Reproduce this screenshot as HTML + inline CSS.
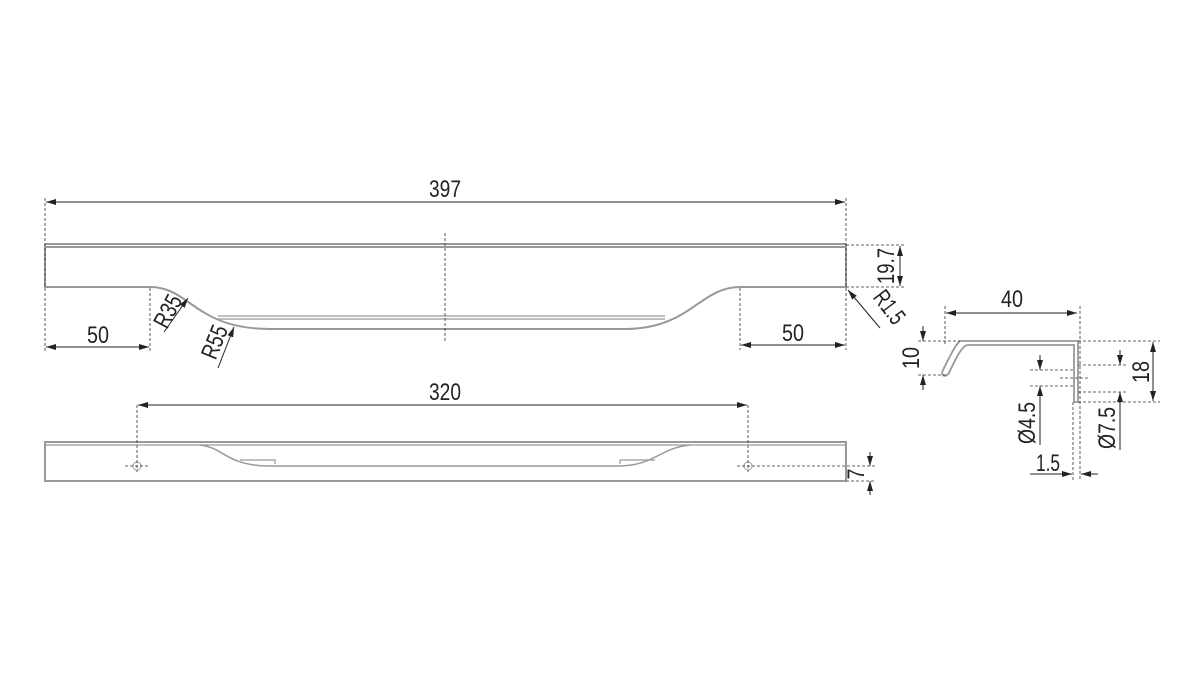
<!DOCTYPE html>
<html><head><meta charset="utf-8"><style>html,body{margin:0;padding:0;background:#fff}svg{display:block}text{font-family:"Liberation Sans",sans-serif;font-size:24px;fill:#222}</style></head><body>
<svg width="1200" height="675" viewBox="0 0 1200 675" xmlns="http://www.w3.org/2000/svg">
<defs>
<marker id="a" viewBox="0 0 10 6" refX="10" refY="3" markerWidth="10" markerHeight="6" orient="auto-start-reverse" markerUnits="userSpaceOnUse"><path d="M0,0L10,3L0,6z" fill="#222"/></marker>
</defs>
<g fill="none" stroke="#999" stroke-width="2">
<path d="M45,244H846M45,247H846M45,244V287H150C190,287 195,329 270,329H625C690,329 700,287 740,287H846V244"/>
<path d="M218,316H665M218,319H665" stroke-width="1.2"/>
<rect x="45" y="442" width="801" height="39"/>
<path d="M45,445H846" stroke-width="1.2"/>
<path d="M200,445C225,448 225,465 268,466H620C655,465 660,448 690,445" stroke-width="1.5"/>
<path d="M240,460H275V464M620,460H655M620,460V464" stroke-width="1.2"/>
<circle cx="137" cy="466" r="4" stroke-width="1"/><circle cx="748" cy="466" r="4" stroke-width="1"/>
<path d="M960,341H1078V402H1074V345H968C962,345 955,360 949,373C946,378 940,376 943,370C948,360 955,345 960,341Z" stroke-width="1.8"/>
</g>
<g stroke="#333" stroke-width="0.8" stroke-dasharray="3,2" fill="none">
<path d="M45,198V352M846,198V350M150,288V352M740,288V350M445,233V341"/>
<path d="M846,245H906M846,287H906"/>
<path d="M137,405V472M748,405V472M125,466H150M737,466H875M846,481H875"/>
<path d="M945,306V345M1080,306V480M1073,402V480M918,341H960M918,375H948M1078,341H1160M1078,402H1160M1030,370H1074M1030,386H1074M1078,365H1128M1078,392H1128M1060,378H1090"/>
</g>
<g stroke="#222" stroke-width="1" fill="none">
<line x1="46" y1="202" x2="845" y2="202" marker-start="url(#a)" marker-end="url(#a)"/>
<line x1="46" y1="347" x2="149" y2="347" marker-start="url(#a)" marker-end="url(#a)"/>
<line x1="741" y1="345" x2="845" y2="345" marker-start="url(#a)" marker-end="url(#a)"/>
<line x1="900" y1="246" x2="900" y2="286" marker-start="url(#a)" marker-end="url(#a)"/>
<line x1="880" y1="328" x2="848" y2="290" marker-end="url(#a)"/>
<line x1="164" y1="332" x2="188" y2="298" marker-end="url(#a)"/>
<line x1="218" y1="368" x2="234" y2="327" marker-end="url(#a)"/>
<line x1="138" y1="405" x2="747" y2="405" marker-start="url(#a)" marker-end="url(#a)"/>
<line x1="870" y1="452" x2="870" y2="466" marker-end="url(#a)"/>
<line x1="870" y1="495" x2="870" y2="481" marker-end="url(#a)"/>
<line x1="946" y1="313" x2="1077" y2="313" marker-start="url(#a)" marker-end="url(#a)"/>
<line x1="923" y1="326" x2="923" y2="341" marker-end="url(#a)"/>
<line x1="923" y1="390" x2="923" y2="375" marker-end="url(#a)"/>
<line x1="1153" y1="342" x2="1153" y2="401" marker-start="url(#a)" marker-end="url(#a)"/>
<line x1="1040" y1="355" x2="1040" y2="370" marker-end="url(#a)"/>
<line x1="1040" y1="445" x2="1040" y2="386" marker-end="url(#a)"/>
<line x1="1120" y1="350" x2="1120" y2="365" marker-end="url(#a)"/>
<line x1="1120" y1="450" x2="1120" y2="392" marker-end="url(#a)"/>
<line x1="1030" y1="474" x2="1072" y2="474" marker-end="url(#a)"/>
<line x1="1098" y1="474" x2="1081" y2="474" marker-end="url(#a)"/>
</g>
<g text-anchor="middle">
<text x="445" y="197" textLength="32" lengthAdjust="spacingAndGlyphs">397</text>
<text x="98" y="343" textLength="22" lengthAdjust="spacingAndGlyphs">50</text>
<text x="793" y="341" textLength="22" lengthAdjust="spacingAndGlyphs">50</text>
<text x="445" y="400" textLength="32" lengthAdjust="spacingAndGlyphs">320</text>
<text x="1012" y="307" textLength="22" lengthAdjust="spacingAndGlyphs">40</text>
<text x="1048" y="471" textLength="24" lengthAdjust="spacingAndGlyphs">1.5</text>
<text transform="translate(894,266) rotate(-90)" textLength="36" lengthAdjust="spacingAndGlyphs">19.7</text>
<text transform="translate(883,312) rotate(53)" textLength="36" lengthAdjust="spacingAndGlyphs">R1.5</text>
<text transform="translate(175,315) rotate(-62)" textLength="34" lengthAdjust="spacingAndGlyphs">R35</text>
<text transform="translate(222,345) rotate(-68)" textLength="34" lengthAdjust="spacingAndGlyphs">R55</text>
<text transform="translate(864,474) rotate(-90)" textLength="11" lengthAdjust="spacingAndGlyphs">7</text>
<text transform="translate(919,358) rotate(-90)" textLength="22" lengthAdjust="spacingAndGlyphs">10</text>
<text transform="translate(1149,372) rotate(-90)" textLength="22" lengthAdjust="spacingAndGlyphs">18</text>
<text transform="translate(1035,423) rotate(-90)" textLength="42" lengthAdjust="spacingAndGlyphs">Ø4.5</text>
<text transform="translate(1115,428) rotate(-90)" textLength="42" lengthAdjust="spacingAndGlyphs">Ø7.5</text>
</g>
</svg>
</body></html>
